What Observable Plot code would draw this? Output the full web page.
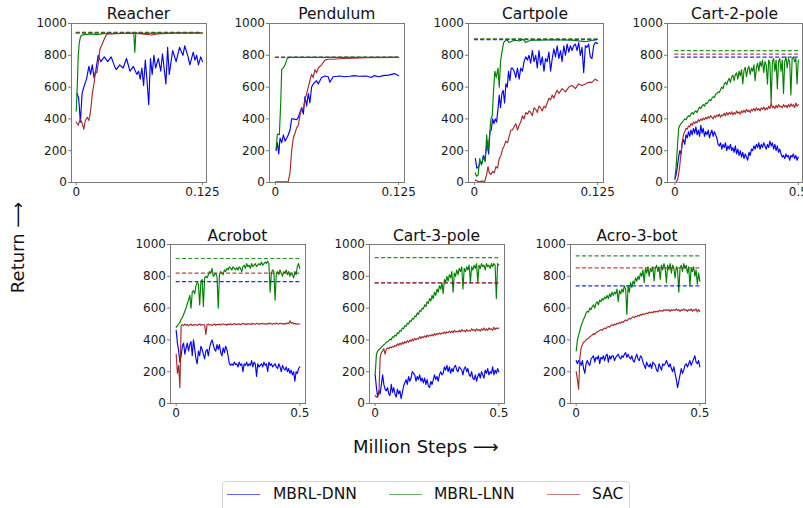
<!DOCTYPE html>
<html>
<head>
<meta charset="utf-8">
<script src="https://cdn.jsdelivr.net/npm/d3@7"></script>
<script src="https://cdn.jsdelivr.net/npm/@observablehq/plot@0.6"></script>
<style>
  html, body { margin: 0; padding: 0; background: #fff; }
  body { width: 803px; height: 508px; overflow: hidden; position: relative; font-family: "DejaVu Sans", sans-serif; }
  .panel { position: absolute; }
  .panel svg { overflow: visible; background: transparent; max-width: none !important; display: block; }
  #overlay { position: absolute; left: 0; top: 0; pointer-events: none; }
  .leg-line { position: absolute; height: 0; border-top: 1.6px solid; }
  .leg-text { position: absolute; font-size: 15.5px; line-height: 18px; color: #111; white-space: nowrap; }
</style>
</head>
<body>
<script>
// ---------- data ----------
const yTicks = [0, 200, 400, 600, 800, 1000];
const seriesNames = ["MBRL-DNN", "MBRL-LNN", "SAC"];

// x grid (million steps) for the 0.5 M-step environments
const steps05 = [
  0,0.005,0.01,0.015,0.02,0.025,0.03,0.035,0.04,0.045,
  0.05,0.055,0.06,0.065,0.07,0.075,0.08,0.085,0.09,0.095,
  0.1,0.105,0.11,0.115,0.12,0.125,0.13,0.135,0.14,0.145,
  0.15,0.155,0.16,0.165,0.17,0.175,0.18,0.185,0.19,0.195,
  0.2,0.205,0.21,0.215,0.22,0.225,0.23,0.235,0.24,0.245,
  0.25,0.255,0.26,0.265,0.27,0.275,0.28,0.285,0.29,0.295,
  0.3,0.305,0.31,0.315,0.32,0.325,0.33,0.335,0.34,0.345,
  0.35,0.355,0.36,0.365,0.37,0.375,0.38,0.385,0.39,0.395,
  0.4,0.405,0.41,0.415,0.42,0.425,0.43,0.435,0.44,0.445,
  0.45,0.455,0.46,0.465,0.47,0.475,0.48,0.485,0.49,0.495,
  0.5
];

// Reacher  [million steps, return]
const reacherDNN = [[0.0007,560],[0.0024,530],[0.0041,380],[0.0058,560],[0.0075,600],[0.0102,650],[0.0125,730],[0.0142,680],[0.0159,740],[0.0176,660],[0.0193,700],[0.0217,800],[0.0244,760],[0.0278,790],[0.0312,760],[0.0346,790],[0.038,730],[0.0397,710],[0.043,740],[0.0464,720],[0.0498,780],[0.0532,700],[0.0566,730],[0.06,680],[0.0617,700],[0.0634,650],[0.065,720],[0.0667,610],[0.0684,770],[0.0701,640],[0.0718,490],[0.0735,780],[0.0752,680],[0.0769,800],[0.0786,720],[0.0813,780],[0.0837,700],[0.0854,810],[0.0888,620],[0.0905,850],[0.0921,680],[0.0955,830],[0.0989,760],[0.1023,850],[0.1057,800],[0.1074,860],[0.1108,790],[0.1125,740],[0.1159,820],[0.1176,770],[0.1193,800],[0.121,740],[0.1233,790],[0.125,760]];
const reacherLNN = [[0,450],[0.001,600],[0.002,800],[0.003,880],[0.004,910],[0.005,925],[0.007,930],[0.01,932],[0.015,935],[0.02,930],[0.025,935],[0.03,938],[0.04,937],[0.05,938],[0.057,938],[0.058,820],[0.059,938],[0.07,938],[0.08,940],[0.1,940],[0.125,940]];
const reacherSAC = [[0,380],[0.002,360],[0.004,400],[0.006,370],[0.0075,335],[0.009,390],[0.011,410],[0.0125,390],[0.014,440],[0.016,560],[0.018,640],[0.019,700],[0.0205,690],[0.022,760],[0.0235,840],[0.025,860],[0.027,890],[0.029,920],[0.031,935],[0.035,935],[0.045,938],[0.06,938],[0.075,928],[0.08,935],[0.1,940],[0.125,940]];
const reacherBest = [945, 942, 940];

// Pendulum
const pendDNN = [[0.0007,200],[0.002,250],[0.0034,180],[0.0047,280],[0.0064,250],[0.0081,300],[0.0098,260],[0.0115,280],[0.0131,300],[0.0148,330],[0.0165,400],[0.0182,400],[0.0216,395],[0.0232,410],[0.0266,470],[0.0283,430],[0.03,540],[0.0317,480],[0.0334,560],[0.035,500],[0.0367,600],[0.0384,620],[0.0418,640],[0.0435,620],[0.0468,660],[0.0502,670],[0.0536,665],[0.0553,630],[0.0586,665],[0.065,670],[0.07,665],[0.0755,668],[0.08,672],[0.085,668],[0.0923,670],[0.0974,660],[0.1,672],[0.105,665],[0.1092,672],[0.115,675],[0.1209,685],[0.125,672]];
const pendLNN = [[0.0007,211],[0.002,305],[0.004,300],[0.0054,500],[0.0064,713],[0.0081,720],[0.0098,740],[0.0121,782],[0.0148,787],[0.125,787]];
const pendSAC = [[0,5],[0.005,5],[0.01,5],[0.013,5],[0.0148,60],[0.0165,200],[0.0182,280],[0.0199,310],[0.0216,345],[0.0232,360],[0.0249,420],[0.0266,470],[0.0283,460],[0.03,520],[0.0317,560],[0.0334,600],[0.035,640],[0.0367,680],[0.0384,660],[0.0401,710],[0.0418,690],[0.0435,720],[0.0468,740],[0.0502,770],[0.0536,775],[0.0586,775],[0.0687,780],[0.0788,782],[0.0923,785],[0.125,787]];
const pendBest = [787, 787, 787];

// Cartpole
const cartDNN = [[0.001,150],[0.0024,90],[0.0044,100],[0.006,130],[0.0077,120],[0.0091,170],[0.0104,140],[0.0118,200],[0.0131,260],[0.0144,180],[0.0158,320],[0.0171,330],[0.0185,400],[0.0198,370],[0.0212,400],[0.0225,380],[0.0239,460],[0.0252,550],[0.0265,470],[0.0279,560],[0.0292,580],[0.0306,500],[0.0319,620],[0.0333,600],[0.0346,700],[0.036,640],[0.0373,720],[0.0386,720],[0.0403,700],[0.042,660],[0.0437,720],[0.0454,650],[0.047,720],[0.0487,700],[0.0504,760],[0.0521,790],[0.0538,770],[0.0554,800],[0.0571,750],[0.0588,830],[0.0605,760],[0.0622,800],[0.0638,720],[0.0655,830],[0.0672,740],[0.0689,790],[0.0706,700],[0.0722,780],[0.0739,760],[0.0756,820],[0.0773,700],[0.079,780],[0.0806,840],[0.0823,790],[0.084,860],[0.0857,780],[0.0874,830],[0.089,760],[0.0907,860],[0.0924,800],[0.0941,870],[0.0958,820],[0.0974,860],[0.0991,830],[0.1008,860],[0.1025,870],[0.1042,830],[0.1058,880],[0.1075,800],[0.1092,850],[0.1109,690],[0.1126,860],[0.1142,850],[0.1159,870],[0.1176,790],[0.1193,780],[0.121,860],[0.1226,880],[0.125,875]];
const cartLNN = [[0.001,60],[0.002,40],[0.0037,45],[0.0054,150],[0.0071,110],[0.0091,160],[0.0111,130],[0.0124,300],[0.0138,200],[0.0151,280],[0.0168,400],[0.0181,420],[0.0195,590],[0.0208,700],[0.0222,660],[0.0239,720],[0.0252,600],[0.0265,760],[0.0279,820],[0.0296,880],[0.0312,890],[0.0326,900],[0.0353,880],[0.0386,890],[0.042,895],[0.0454,890],[0.0494,900],[0.0521,880],[0.0571,895],[0.0655,895],[0.079,898],[0.0991,895],[0.1126,885],[0.125,900]];
const cartSAC = [[0.001,15],[0.005,5],[0.0084,10],[0.0101,0],[0.0124,50],[0.0138,100],[0.0151,60],[0.0168,50],[0.0185,70],[0.0202,60],[0.0218,100],[0.0235,90],[0.0252,150],[0.0269,170],[0.0286,210],[0.0302,230],[0.0319,260],[0.0336,250],[0.0353,290],[0.037,330],[0.0386,330],[0.0403,350],[0.042,370],[0.0437,330],[0.0454,360],[0.047,380],[0.0487,420],[0.0504,400],[0.0521,440],[0.0538,430],[0.0554,450],[0.0571,440],[0.0588,420],[0.0605,470],[0.0622,460],[0.0638,440],[0.0655,480],[0.0672,470],[0.0689,450],[0.0706,480],[0.0722,470],[0.0739,500],[0.0756,530],[0.0773,520],[0.079,550],[0.0806,530],[0.0823,560],[0.084,580],[0.0857,560],[0.089,590],[0.0924,570],[0.0958,600],[0.0991,610],[0.1025,590],[0.1058,620],[0.1092,610],[0.1126,620],[0.1159,630],[0.1193,630],[0.1226,650],[0.125,640]];
const cartBest = [898, 903, 901];

// Cart-2-pole (values on steps05)
const cart2DNN = [
  20,50,100,160,200,180,250,270,240,300,
  280,320,290,330,300,340,310,350,300,330,
  290,360,310,340,290,320,300,330,280,310,
  330,290,320,300,280,240,230,250,210,240,
  220,250,200,230,210,240,200,220,190,230,
  180,210,170,200,160,190,150,180,160,140,
  190,170,210,200,230,210,240,220,250,210,
  240,220,250,230,210,240,220,260,230,250,
  210,240,200,230,190,210,180,160,170,150,
  180,160,170,140,170,160,180,150,170,140,
  160];
const cart2LNN = [
  30,100,220,340,360,370,380,390,400,395,
  410,420,415,430,440,430,445,450,440,460,
  475,465,480,490,480,500,495,510,520,515,
  530,540,535,555,560,570,565,585,600,590,
  620,630,615,640,655,630,665,675,640,680,
  690,650,700,670,710,620,705,725,665,715,
  730,680,720,700,740,640,720,750,700,760,
  730,770,690,760,740,620,770,750,500,760,
  780,700,770,590,760,780,700,770,560,760,
  790,720,780,760,550,780,790,760,780,620,
  770];
const cart2SAC = [
  0,5,15,50,110,190,260,300,320,340,
  335,355,350,370,360,380,370,385,375,395,
  385,400,390,405,395,410,400,415,405,420,
  410,400,420,410,425,415,430,410,425,420,
  435,420,440,425,440,430,445,425,440,430,
  450,435,445,430,450,440,455,440,460,445,
  455,440,460,450,465,450,470,455,465,450,
  470,460,475,455,470,460,480,465,500,470,
  480,465,485,470,490,475,480,470,490,475,
  485,470,490,475,495,480,490,470,500,480,
  490];
const cart2Best = [788, 830, 808];

// Acrobot
const acroDNN = [
  460,380,330,260,300,360,380,310,350,380,
  330,370,390,300,400,340,280,250,330,300,
  360,340,310,280,330,340,300,350,380,400,
  370,340,330,370,340,370,320,300,350,320,
  360,340,300,250,240,250,240,260,245,250,
  230,260,240,250,200,250,240,260,235,250,
  240,270,230,260,250,170,250,230,240,250,
  230,260,240,250,200,260,240,250,230,240,
  250,230,220,250,230,200,240,220,210,230,
  200,220,190,210,180,200,140,200,190,220,
  230];
const acroLNN = [
  480,490,500,510,530,540,560,580,600,630,
  650,680,600,700,710,690,740,760,750,620,
  770,780,610,790,800,790,810,830,820,850,
  800,810,820,800,600,810,830,820,810,840,
  830,850,840,860,850,840,860,850,840,855,
  840,860,850,830,860,870,850,880,860,870,
  850,880,860,870,880,860,870,880,870,890,
  870,880,890,880,895,880,700,820,840,830,
  650,820,830,810,840,820,800,830,820,840,
  810,830,800,820,810,790,830,810,860,880,
  850];
const acroSAC = [
  310,190,240,100,490,495,490,500,492,497,
  488,495,500,490,496,493,498,490,495,500,
  492,497,494,495,435,495,500,493,497,490,
  496,500,492,498,494,500,493,497,501,495,
  498,492,500,496,502,494,499,503,496,500,
  497,502,495,500,504,498,501,496,503,499,
  502,497,504,500,498,505,501,497,503,500,
  505,499,502,498,504,500,506,501,498,503,
  500,506,502,499,505,501,503,498,504,500,
  507,502,520,505,510,500,505,498,502,500,
  500];
const acroBest = [767, 912, 820];

// Cart-3-pole
const cart3DNN = [
  180,100,40,80,60,120,180,120,90,80,
  100,60,50,120,70,100,60,40,90,60,
  80,30,70,110,130,150,120,170,140,160,
  200,190,180,140,170,150,180,140,160,130,
  160,120,150,110,100,140,120,150,180,150,
  170,140,180,200,180,190,230,210,240,200,
  230,190,220,200,230,240,210,200,230,220,
  210,180,220,230,200,220,180,170,200,160,
  150,180,140,170,190,160,200,180,160,210,
  190,220,180,200,190,230,180,210,190,220,
  200];
const cart3LNN = [
  180,310,330,340,345,355,360,370,375,385,
  390,395,405,400,420,415,430,425,445,440,
  460,455,475,470,490,485,505,500,520,515,
  535,530,550,545,570,560,585,580,600,595,
  620,610,640,630,660,645,680,660,700,680,
  720,700,740,720,760,690,780,760,800,770,
  810,790,830,700,820,800,840,810,850,830,
  860,720,850,830,860,840,870,760,860,840,
  870,850,880,760,870,850,880,860,870,840,
  880,860,870,850,880,860,880,870,660,880,
  870];
const cart3SAC = [
  50,40,45,60,290,320,330,345,310,340,
  350,345,355,350,360,355,365,360,375,365,
  380,370,385,375,390,380,395,385,400,390,
  405,395,410,400,410,405,420,410,420,415,
  425,415,430,420,430,425,435,425,440,430,
  440,435,445,435,445,440,450,440,450,445,
  455,445,455,445,460,450,455,450,460,450,
  465,455,460,450,465,455,460,455,470,460,
  465,455,470,460,465,455,470,460,475,460,
  470,460,475,465,470,460,480,465,475,470,
  475];
const cart3Best = [758, 918, 760];

// Acro-3-bot
const acro3DNN = [
  270,250,270,260,240,270,220,190,250,270,
  250,240,280,290,300,260,290,280,300,250,
  290,280,300,270,300,310,260,300,280,300,
  300,270,290,300,310,290,280,300,290,310,
  320,290,310,290,280,300,270,260,290,310,
  280,270,300,290,260,240,220,260,240,230,
  250,220,260,250,240,210,200,250,230,210,
  250,240,250,270,250,230,250,220,200,230,
  190,150,100,140,180,220,190,210,240,250,
  230,250,270,240,260,280,300,260,250,270,
  230];
const acro3LNN = [
  330,400,430,460,490,510,530,545,570,580,
  575,600,590,610,620,600,630,640,620,650,
  640,660,650,670,660,680,660,690,670,700,
  680,700,690,720,640,710,690,720,700,740,
  720,560,740,700,760,730,770,750,790,770,
  800,780,820,800,840,760,850,820,860,800,
  850,830,860,770,850,870,830,860,780,870,
  840,880,850,760,870,840,880,820,870,850,
  790,860,840,700,850,870,830,880,850,870,
  820,860,740,850,830,860,800,840,750,820,
  770];
const acro3SAC = [
  200,150,90,290,350,370,385,390,400,405,
  410,420,425,430,440,435,445,450,455,460,
  465,460,470,475,470,480,485,480,490,495,
  490,500,495,505,500,510,505,515,510,520,
  525,520,530,535,530,540,545,540,550,545,
  555,550,560,555,565,560,565,570,565,575,
  570,575,570,580,575,580,575,585,580,585,
  580,590,585,590,585,590,580,590,585,590,
  585,595,585,590,580,590,585,595,585,590,
  580,590,585,595,580,590,585,595,575,590,
  580];
const acro3Best = [740, 929, 853];

// ---------- layout / style ----------
const colors = ["#0000ff", "#008000", "#a52a2a"];
const FW = 135, FH = 159, ML = 40, MT = 26, MR = 14, MB = 24;
const dom125a = [-0.0047, 0.129], dom125 = [-0.006, 0.131], dom5 = [-0.023, 0.523];

const onSteps = (arr) => steps05.map((x, i) => [x, arr[i]]);

const panels = [
  {title: "Reacher", L: 71, T: 23, domain: dom125a, xmax: 0.125, xlab: "0.125", series: [reacherDNN, reacherLNN, reacherSAC], best: reacherBest},
  {title: "Pendulum", L: 269.3, T: 23, domain: dom125, xmax: 0.125, xlab: "0.125", series: [pendDNN, pendLNN, pendSAC], best: pendBest},
  {title: "Cartpole", L: 467.5, T: 23, domain: dom125, xmax: 0.125, xlab: "0.125", series: [cartDNN, cartLNN, cartSAC], best: cartBest},
  {title: "Cart-2-pole", L: 667, T: 23, domain: [-0.03, 0.517], xmax: 0.5, xlab: "0.5", series: [cart2DNN, cart2LNN, cart2SAC].map(onSteps), best: cart2Best},
  {title: "Acrobot", L: 170, T: 244.3, domain: dom5, xmax: 0.5, xlab: "0.5", series: [acroDNN, acroLNN, acroSAC].map(onSteps), best: acroBest},
  {title: "Cart-3-pole", L: 369, T: 244.3, domain: dom5, xmax: 0.5, xlab: "0.5", series: [cart3DNN, cart3LNN, cart3SAC].map(onSteps), best: cart3Best},
  {title: "Acro-3-bot", L: 569.5, T: 244.3, domain: dom5, xmax: 0.5, xlab: "0.5", series: [acro3DNN, acro3LNN, acro3SAC].map(onSteps), best: acro3Best}
];

for (const p of panels) {
  const marks = [];
  p.series.forEach((s, k) => {
    marks.push(Plot.line(s, {x: d => d[0], y: d => d[1], stroke: colors[k], strokeWidth: 1.15}));
  });
  p.best.forEach((b, k) => {
    marks.push(Plot.ruleY([b], {x1: 0, x2: p.xmax, stroke: colors[k], strokeWidth: 1.2, strokeDasharray: "4,2.3", strokeOpacity: 0.85}));
  });
  marks.push(Plot.frame({stroke: "#7a7a7a", strokeWidth: 1}));
  marks.push(Plot.axisY({ticks: yTicks, tickFormat: d => String(d), tickSize: 3, tickPadding: 1.5, stroke: "#7a7a7a", fill: "#1a1a1a", fontSize: 12, label: null}));
  marks.push(Plot.axisX({ticks: [0, p.xmax], tickFormat: d => d === 0 ? "0" : p.xlab, tickSize: 3, tickPadding: 2, stroke: "#7a7a7a", fill: "#1a1a1a", fontSize: 12, label: null}));

  const W = ML + FW + MR, H = MT + FH + MB;
  const chart = Plot.plot({
    width: W, height: H,
    marginLeft: ML, marginRight: MR, marginTop: MT, marginBottom: MB,
    x: {domain: p.domain},
    y: {domain: [0, 1000]},
    style: {fontFamily: "DejaVu Sans", fontSize: "12px", background: "transparent", overflow: "visible", maxWidth: "none"},
    marks
  });
  chart.style.maxWidth = "none";
  chart.style.width = W + "px";
  chart.style.height = H + "px";
  const div = document.createElement("div");
  div.className = "panel";
  div.style.left = (p.L - ML) + "px";
  div.style.top = (p.T - MT) + "px";
  div.style.width = W + "px";
  div.style.height = H + "px";
  div.appendChild(chart);
  document.body.appendChild(div);
}

// ---------- titles & axis labels (overlay) ----------
const NS = "http://www.w3.org/2000/svg";
const ov = document.createElementNS(NS, "svg");
ov.setAttribute("id", "overlay");
ov.setAttribute("width", 803);
ov.setAttribute("height", 508);
function addText(str, x, y, size, rotate) {
  const t = document.createElementNS(NS, "text");
  t.textContent = str;
  t.setAttribute("text-anchor", "middle");
  t.setAttribute("font-family", "DejaVu Sans");
  t.setAttribute("font-size", size);
  t.setAttribute("fill", "#111");
  if (rotate) t.setAttribute("transform", `translate(${x},${y}) rotate(-90)`);
  else { t.setAttribute("x", x); t.setAttribute("y", y); }
  ov.appendChild(t);
}
for (const p of panels) addText(p.title, p.L + FW / 2, p.T - 3.6, 15.5, false);
addText("Return \u27F6", 24, 247.5, 18, true);
addText("Million Steps \u27F6", 425.8, 453, 18, false);
document.body.appendChild(ov);

// ---------- legend ----------
const leg = document.createElement("div");
leg.style.cssText = "position:absolute;left:221.5px;top:481px;width:408px;height:40px;border:1px solid #d6d6d6;border-radius:4px;background:#fff;box-sizing:border-box;";
document.body.appendChild(leg);
const legItems = [
  {line: 227, text: 273},
  {line: 389, text: 434},
  {line: 547, text: 592}
];
legItems.forEach((it, k) => {
  const ln = document.createElement("div");
  ln.className = "leg-line";
  ln.style.left = it.line + "px";
  ln.style.top = "493.5px";
  ln.style.width = "33px";
  ln.style.borderTopColor = colors[k];
  ln.style.opacity = "0.6";
  document.body.appendChild(ln);
  const tx = document.createElement("div");
  tx.className = "leg-text";
  tx.style.left = it.text + "px";
  tx.style.top = "485px";
  tx.textContent = seriesNames[k];
  document.body.appendChild(tx);
});
</script>
</body>
</html>
